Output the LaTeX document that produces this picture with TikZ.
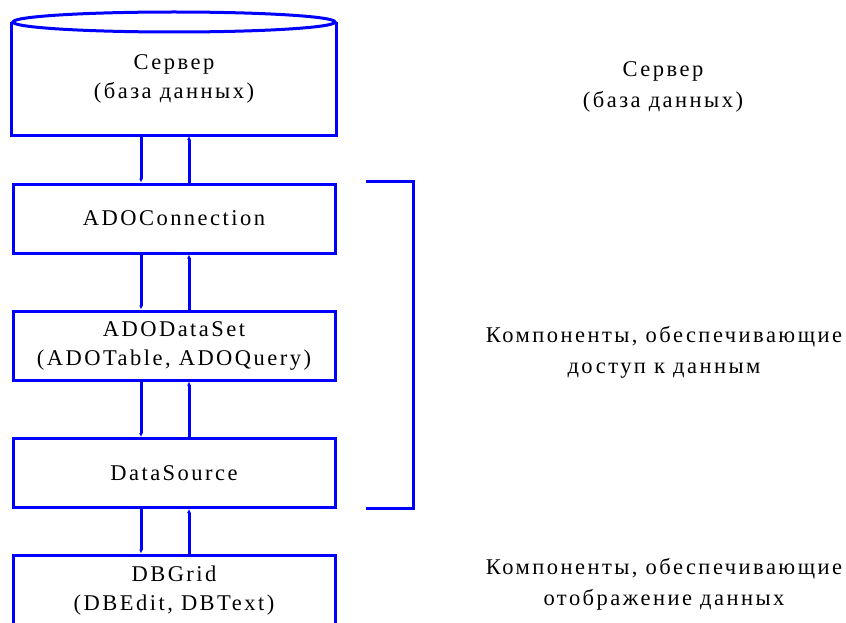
\documentclass[tikz,border=0pt]{standalone}
\usepackage{fontspec}
\setmainfont[LetterSpace=11]{Liberation Serif}
\usetikzlibrary{positioning,arrows.meta}

\definecolor{boxblue}{RGB}{0,0,255}
\tikzset{
  comp/.style={draw=boxblue, line width=3pt, minimum width=322pt, minimum height=69pt,
    align=center, font=\fontsize{22.5}{29}\selectfont, inner sep=0pt},
  flow/.style={draw=boxblue, line width=3pt, -{Latex[length=4pt,width=4pt]}},
  note/.style={align=center, font=\fontsize{22.5}{31}\selectfont}
}

\begin{document}
\begin{tikzpicture}[x=1pt, y=-1pt]
    \useasboundingbox (0,0) rectangle (846,623);
    % server cylinder
    \node[comp, draw=none, minimum height=111pt] (server) at (174,79) {Сервер\\(база данных)};
    \draw[boxblue, line width=3pt] (server.north west) -- (server.south west) -- (server.south east) -- (server.north east);
    \draw[boxblue, line width=3pt] (server.north) ellipse [x radius=161pt, y radius=10pt];
    % component chain
    \node[comp] (conn) at (174,218.5) {ADOConnection};
    \node[comp] (dset) at (174,345.5) {ADODataSet\\(ADOTable, ADOQuery)};
    \node[comp] (dsrc) at (174,473) {DataSource};
    \node[comp, minimum height=72pt] (grid) at (174,591) {DBGrid\\(DBEdit, DBText)};
    \foreach \a/\b in {server/conn, conn/dset, dset/dsrc, dsrc/grid}{
       \draw[flow] ([xshift=-33pt]\a.south) -- ([xshift=-33pt]\b.north);
       \draw[flow] ([xshift=15pt]\b.north) -- ([xshift=15pt]\a.south);
    }
    % bracket over the access components
    \coordinate (brtop) at (366,181);
    \coordinate (brbot) at (366,508);
    \draw[boxblue, line width=3pt] (brtop) -- ++(47,0) |- (brbot);
    % captions
    \node[note] (srvnote) at (663,87) {Сервер\\(база данных)};
    \node[note] (accnote) at (664,352) {Компоненты, обеспечивающие\\доступ к данным};
    \node[note] (viewnote) at (664,584) {Компоненты, обеспечивающие\\отображение данных};
\end{tikzpicture}
\end{document}
